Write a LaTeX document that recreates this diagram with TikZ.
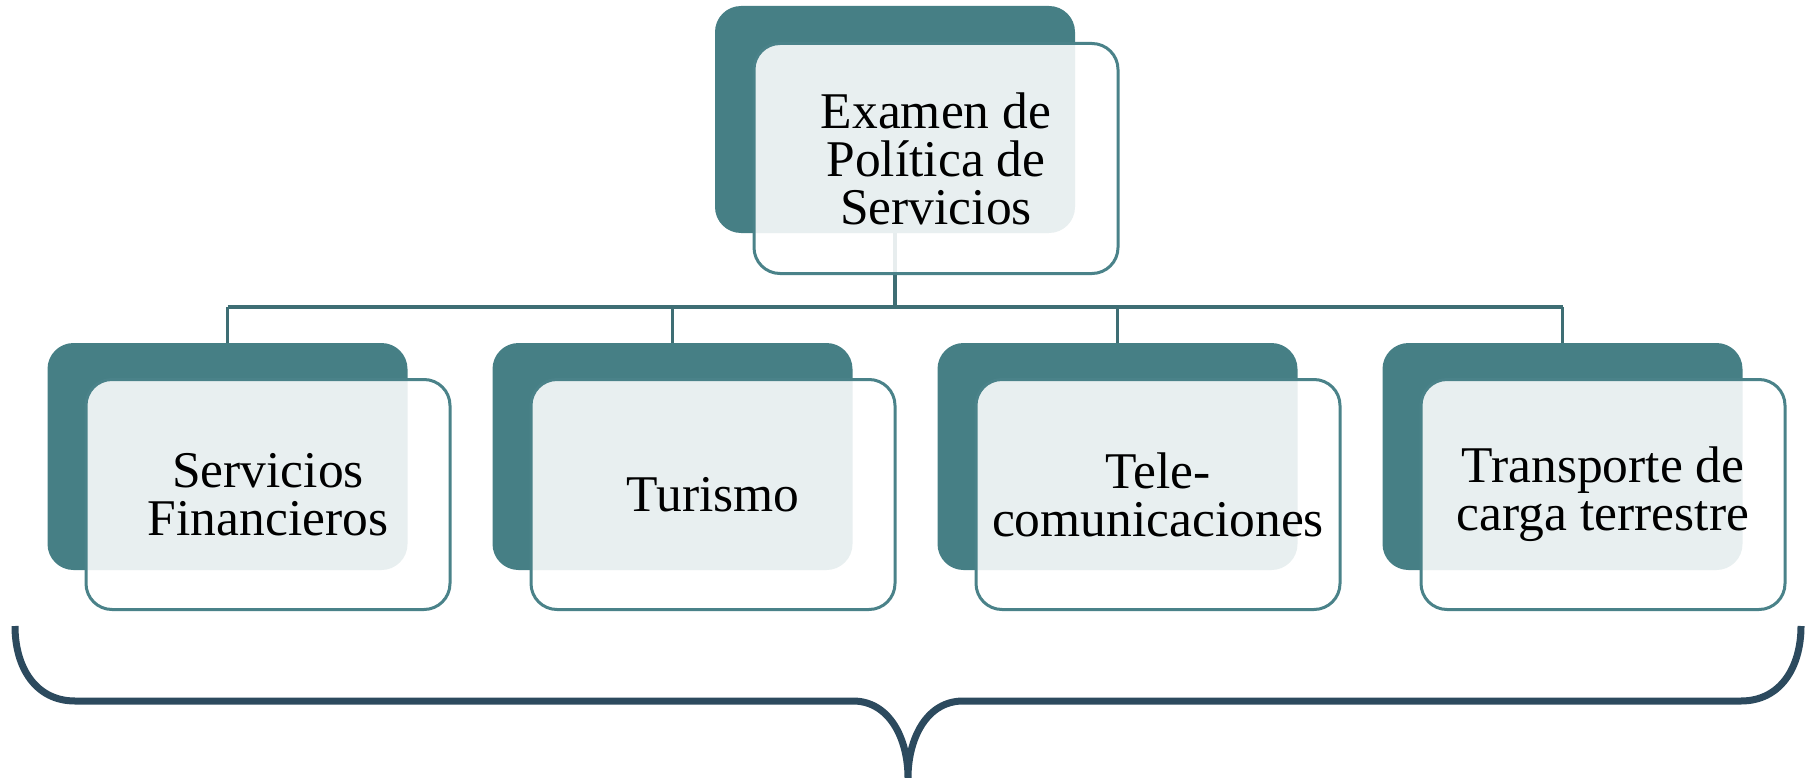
\documentclass[tikz,border=0pt]{standalone}
\usepackage{fontspec}
\setmainfont{Liberation Serif}
\definecolor{tealdark}{RGB}{70,127,133}
\definecolor{tealline}{RGB}{74,130,137}
\definecolor{connc}{RGB}{62,110,116}
\definecolor{bracec}{RGB}{44,74,94}
\tikzset{
  backbox/.style={fill=tealdark, draw=none, rounded corners=26pt, minimum width=360pt, minimum height=227pt, inner sep=0pt},
  frontbox/.style={fill=white, fill opacity=0.88, text opacity=1, draw=tealline, line width=3pt, rounded corners=26pt, minimum width=364pt, minimum height=230pt, inner sep=0pt, align=center, font=\fontsize{51.5}{48}\selectfont},
  conn/.style={draw=connc, line width=3.5pt},
  bracestyle/.style={draw=bracec, line width=7pt, line join=round}
}
\begin{document}
\begin{tikzpicture}[x=1pt, y=-1pt]
\useasboundingbox (0,0) rectangle (1812,778);
% bus coordinate
\coordinate (bus) at (0,307);
% back boxes
\node[backbox] (b0) at (895,119.5) {};
\node[backbox] (b1) at (227.5,456.5) {};
\node[backbox] (b2) at (672.5,456.5) {};
\node[backbox] (b3) at (1117.5,456.5) {};
\node[backbox] (b4) at (1562.5,456.5) {};
% connectors
\draw[conn] (b0.south) -- (b0.south |- bus);
\draw[conn] (b1.north |- bus) -- (b4.north |- bus);
\foreach \k in {1,2,3,4} {
  \draw[conn] (b\k.north |- bus) -- (b\k.north);
}
% front boxes
\node[frontbox] (f0) at (936,158.5) {Examen de\\Política de\\Servicios};
\node[frontbox] (f1) at (268,494.5) {Servicios\\Financieros};
\node[frontbox] (f2) at (713,494.5) {Turismo};
\node[frontbox] (f3) at (1158,494.5) {Tele-\\comunicaciones};
\node[frontbox] (f4) at (1603,494.5) {Transporte de\\carga terrestre};
% brace
\coordinate (bl) at (15,626);
\coordinate (br) at (1801,626);
\coordinate (tip) at (908,778);
\draw[bracestyle] (bl) .. controls (15,668) and (36,701) .. (75,701)
  -- (853,701) .. controls (889,701) and (908,738) .. (tip)
  .. controls (908,738) and (927,701) .. (963,701)
  -- (1741,701) .. controls (1780,701) and (1801,668) .. (br);
\end{tikzpicture}
\end{document}
